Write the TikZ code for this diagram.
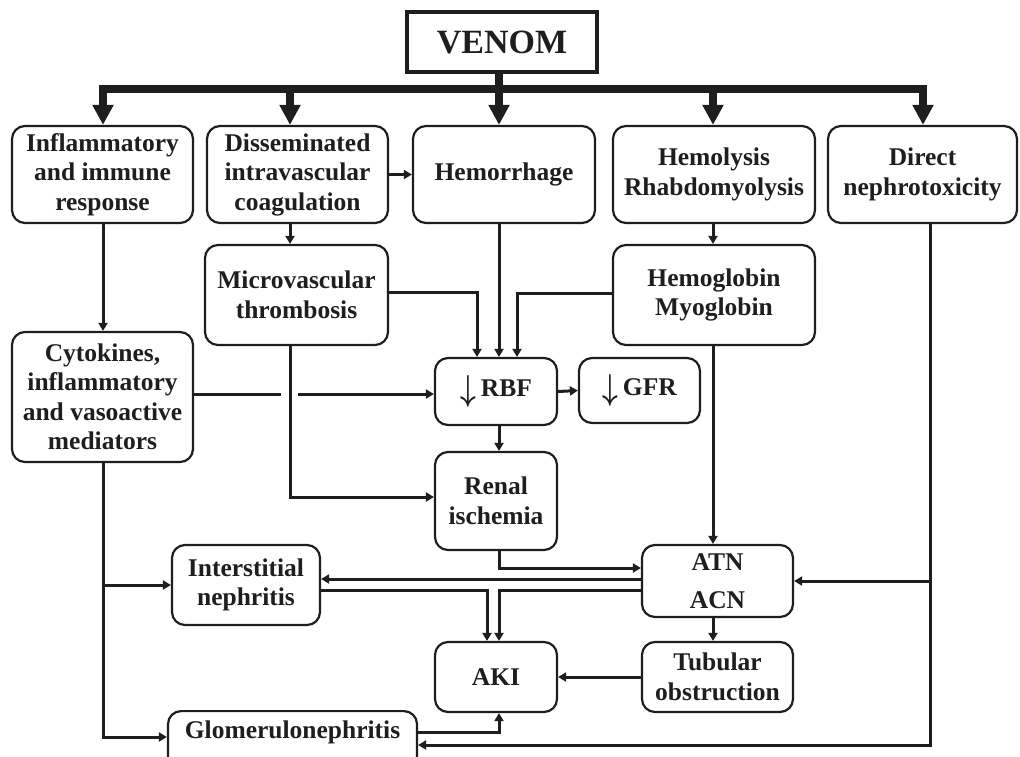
\documentclass[tikz,border=0pt]{standalone}
\usepackage{fontspec}
\setmainfont{Liberation Serif}
\usetikzlibrary{arrows.meta,calc}
\definecolor{ink}{HTML}{1E1E1E}
\newcommand\boxfont{\fontsize{25.5}{29.5}\selectfont\bfseries}
\newcommand\dn{\raisebox{-4pt}{\scalebox{1.1}[1.45]{\boldmath$\downarrow$}}\hspace{5pt}}

\begin{document}
\begin{tikzpicture}[x=1pt,y=-1pt,
  box/.style={draw=ink, line width=2.2pt, rounded corners=13pt, align=center,
              font=\boxfont, text=ink, inner sep=0pt},
  conn/.style={draw=ink, line width=3pt, -{Triangle[length=8pt,width=9pt]}},
  link/.style={draw=ink, line width=3pt},
  busarrow/.style={draw=ink, line width=8pt, -{Triangle[length=20pt,width=20pt]}}]

\useasboundingbox (0,0) rectangle (1020,756);
\clip (0,0) rectangle (1020,756);

% ---- boxes ----
\node[box, sharp corners, line width=3.5pt, minimum width=190pt, minimum height=60pt,
      font=\fontsize{34}{40}\selectfont\bfseries] (venom) at (502,42) {VENOM};

\node[box, minimum width=181pt, minimum height=97pt] (inflam) at (102.5,174.5) {Inflammatory\\and immune\\response};
\node[box, minimum width=181pt, minimum height=97pt] (dic)    at (297.5,174.5) {Disseminated\\intravascular\\coagulation};
\node[box, minimum width=182pt, minimum height=97pt] (hem)    at (504,174.5)   {Hemorrhage};
\node[box, minimum width=202pt, minimum height=97pt] (hemo)   at (714,174.5)   {Hemolysis\\Rhabdomyolysis};
\node[box, minimum width=189pt, minimum height=97pt] (direct) at (922.5,174.5) {Direct\\nephrotoxicity};

\node[box, minimum width=183pt, minimum height=100pt] (micro) at (296.5,295) {Microvascular\\thrombosis};
\node[box, minimum width=202pt, minimum height=100pt] (hglob) at (714,295)   {Hemoglobin\\Myoglobin};

\node[box, minimum width=181pt, minimum height=130pt] (cyto) at (102.5,397) {Cytokines,\\inflammatory\\and vasoactive\\mediators};

\node[box, minimum width=122pt, minimum height=67pt] (rbf)   at (496,391.5) {\dn RBF};
\node[box, minimum width=121pt, minimum height=65pt] (gfr)   at (639.5,390.5) {\dn GFR};
\node[box, minimum width=122pt, minimum height=98pt] (renal) at (496,501) {Renal\\ischemia};

\node[box, minimum width=151pt, minimum height=72pt] (atn)   at (717.5,581) {ATN\\[8pt]ACN};
\node[box, minimum width=148pt, minimum height=80pt] (inter) at (246,585) {Interstitial\\nephritis};
\node[box, minimum width=122pt, minimum height=70pt] (aki)   at (496,677) {AKI};
\node[box, minimum width=151pt, minimum height=70pt] (tub)   at (717.5,677) {Tubular\\obstruction};

\node[box, anchor=north, minimum width=249pt, text height=18pt, text depth=45pt, inner ysep=9pt]
      (glom) at (292.5,710) {Glomerulonephritis};

% ---- main distribution bus ----
\coordinate (busL) at (103,89);
\coordinate (busR) at (923,89);
\coordinate (c2) at (290,89);
\coordinate (c3) at (499,89);
\coordinate (c4) at (713,89);
\coordinate (c5) at (930,89);

\draw[busarrow] (c3) -- (busL) -- (inflam.north -| busL);
\draw[busarrow] (c3) -- (busR) -- (direct.north -| busR);
\draw[busarrow] (venom.south -| c3) -- (hem.north -| c3);
\draw[busarrow] (c2) -- (dic.north -| c2);
\draw[busarrow] (c4) -- (hemo.north -| c4);

% ---- connectors ----
\draw[conn] (dic.east) -- (hem.west);
\draw[conn] (dic.south -| c2) -- (micro.north -| c2);
\draw[conn] (hemo.south -| c4) -- (hglob.north -| c4);
\draw[conn] (inflam.south -| busL) -- (cyto.north -| busL);

\coordinate (gapL) at (281,394);
\coordinate (gapR) at (298,394);
\draw[link] (cyto.east |- gapL) -- (gapL);
\draw[conn] (gapR) -- (rbf.west |- gapR);

\draw[conn] ([yshift=3pt]micro.east) -| ([xshift=-19pt]rbf.north);
\draw[conn] (hem.south -| c3) -- (rbf.north -| c3);
\draw[conn] ([yshift=2pt]hglob.west) -| ([xshift=21pt]rbf.north);
\draw[conn] (rbf.east) -- (gfr.west);
\draw[conn] (rbf.south -| c3) -- (renal.north -| c3);
\draw[conn] (micro.south -| c2) |- ([yshift=4pt]renal.west);
\draw[conn] (hglob.south -| c4) -- (atn.north -| c4);
\draw[conn] (renal.south -| c3) |- ([yshift=13pt]atn.west);
\draw[conn] ([yshift=2pt]atn.west) -- ([yshift=2pt]atn.west -| inter.east);
\draw[conn] ([yshift=-5pt]inter.east) -| ([xshift=-9pt]aki.north);
\draw[conn] ([yshift=-9pt]atn.west) -| ([xshift=3pt]aki.north);
\draw[conn] (atn.south -| c4) -- (tub.north -| c4);
\draw[conn] (tub.west) -- (aki.east);

\draw[conn] (direct.south -| c5) |- ($(glom.north east)+(0,35)$);
\draw[conn] (c5 |- atn.east) -- (atn.east);
\draw[conn] ($(glom.north east)+(0,22)$) -| (aki.south -| c3);

\draw[conn] (cyto.south -| busL) |- ($(glom.north west)+(0,27)$);
\draw[conn] (busL |- inter.west) -- (inter.west);

\end{tikzpicture}
\end{document}
